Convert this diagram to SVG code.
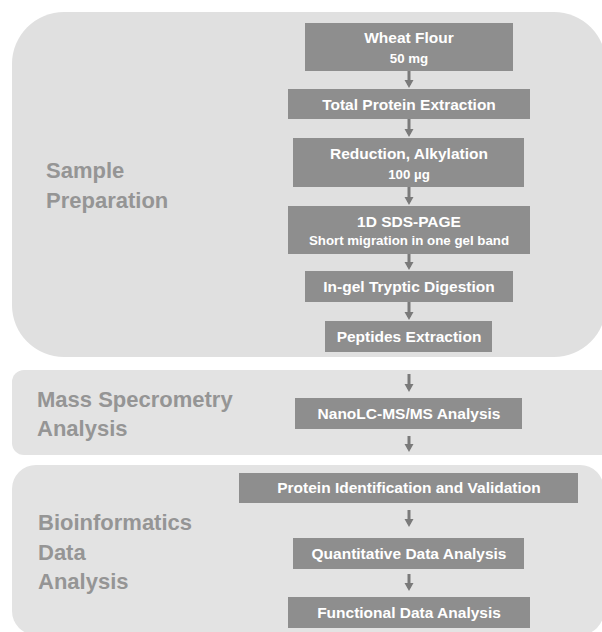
<svg xmlns="http://www.w3.org/2000/svg" width="602" height="632" viewBox="0 0 602 632">
<defs>
<style>
.panel{fill:#e0e0e0}
.panel2{fill:#e3e3e3}
.box{fill:#8e8e8e}
.t{font-family:"Liberation Sans",Arial,sans-serif;font-weight:bold;fill:#ffffff;text-anchor:middle;font-size:15.5px}
.s{font-family:"Liberation Sans",Arial,sans-serif;font-weight:bold;fill:#ffffff;text-anchor:middle;font-size:13.3px}
.lab{font-family:"Liberation Sans",Arial,sans-serif;font-weight:bold;fill:#959595;font-size:22px}
.arr{stroke:#7a7a7a;stroke-width:3;fill:none}
</style>
<marker id="ah" markerWidth="10" markerHeight="10" refX="5" refY="5" orient="auto" markerUnits="userSpaceOnUse">
<path d="M0,0.5 L8,5 L0,9.5 z" fill="#7a7a7a"/>
</marker>
</defs>
<rect width="602" height="632" fill="#ffffff"/>
<g id="panel-sample">
<rect class="panel" x="12" y="12" width="594" height="345" rx="52" ry="52"/>
<text class="lab" x="46" y="178">Sample</text>
<text class="lab" x="46" y="208">Preparation</text>
</g>
<g id="panel-ms">
<rect class="panel2" x="12" y="370" width="610" height="85" rx="12" ry="12"/>
<text class="lab" x="37" y="407">Mass Specrometry</text>
<text class="lab" x="37" y="436">Analysis</text>
</g>
<g id="panel-bio">
<rect class="panel2" x="12" y="465" width="592" height="170" rx="24" ry="24"/>
<text class="lab" x="38" y="530">Bioinformatics</text>
<text class="lab" x="38" y="560">Data</text>
<text class="lab" x="38" y="589">Analysis</text>
</g>
<g id="connectors">
<line class="arr" x1="409" y1="71" x2="409" y2="85" marker-end="url(#ah)"/>
<line class="arr" x1="409" y1="119" x2="409" y2="134" marker-end="url(#ah)"/>
<line class="arr" x1="409" y1="187" x2="409" y2="202" marker-end="url(#ah)"/>
<line class="arr" x1="409" y1="254" x2="409" y2="267" marker-end="url(#ah)"/>
<line class="arr" x1="409" y1="302" x2="409" y2="317" marker-end="url(#ah)"/>
<line class="arr" x1="409" y1="374" x2="409" y2="389" marker-end="url(#ah)"/>
<line class="arr" x1="409" y1="436" x2="409" y2="449" marker-end="url(#ah)"/>
<line class="arr" x1="409" y1="510" x2="409" y2="524" marker-end="url(#ah)"/>
<line class="arr" x1="409" y1="574" x2="409" y2="588" marker-end="url(#ah)"/>
</g>
<g id="n-wheat">
<rect class="box" x="305" y="23" width="208" height="48"/>
<text class="t" x="409" y="43">Wheat Flour</text>
<text class="s" x="409" y="63">50 mg</text>
</g>
<g id="n-total">
<rect class="box" x="288" y="89" width="242" height="30"/>
<text class="t" x="409" y="109.5">Total Protein Extraction</text>
</g>
<g id="n-reduction">
<rect class="box" x="293" y="138" width="231" height="49"/>
<text class="t" x="409" y="159">Reduction, Alkylation</text>
<text class="s" x="409" y="179">100 µg</text>
</g>
<g id="n-sds">
<rect class="box" x="288" y="206" width="242" height="48"/>
<text class="t" x="409" y="227">1D SDS-PAGE</text>
<text class="s" x="409" y="245">Short migration in one gel band</text>
</g>
<g id="n-ingel">
<rect class="box" x="305" y="271" width="208" height="31"/>
<text class="t" x="409" y="292">In-gel Tryptic Digestion</text>
</g>
<g id="n-peptides">
<rect class="box" x="325" y="321" width="167" height="31"/>
<text class="t" x="409" y="342">Peptides Extraction</text>
</g>
<g id="n-nanolc">
<rect class="box" x="295" y="398" width="227" height="31"/>
<text class="t" x="409" y="419">NanoLC-MS/MS Analysis</text>
</g>
<g id="n-protid">
<rect class="box" x="239" y="473" width="339" height="30"/>
<text class="t" x="409" y="493">Protein Identification and Validation</text>
</g>
<g id="n-quant">
<rect class="box" x="293" y="538" width="231" height="31"/>
<text class="t" x="409" y="559">Quantitative Data Analysis</text>
</g>
<g id="n-func">
<rect class="box" x="288" y="597" width="242" height="31"/>
<text class="t" x="409" y="618">Functional Data Analysis</text>
</g>
</svg>
